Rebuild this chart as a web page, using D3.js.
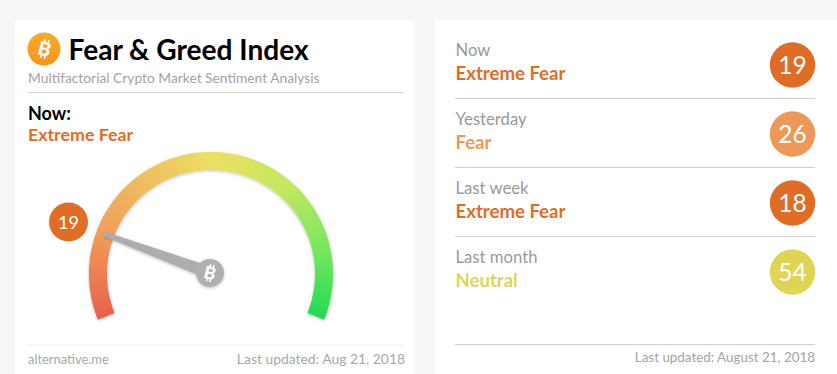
<!DOCTYPE html>
<html><head><meta charset="utf-8">
<script src="https://cdn.jsdelivr.net/npm/d3@7/dist/d3.min.js"></script>
<style>html,body{margin:0;padding:0;background:#f6f7f9;overflow:hidden}svg{display:block;font-family:Lato,sans-serif}</style>
</head><body><svg id="c" width="837" height="374"></svg>
<script>
const rowLabels=["Now","Yesterday","Last week","Last month"];
const rowClasses=["Extreme Fear","Fear","Extreme Fear","Neutral"];
const rowValues=[19,26,18,54];
const classColors={"Extreme Fear":"#df6d26","Fear":"#ec9858","Neutral":"#dfd454"};
const gaugeStops=[0,0.2,0.5,0.68,0.85,1];
const gaugeColors=["#e9604b","#f1a05b","#ecdf63","#c4e85f","#76e761","#1fdb52"];
const gaugeSteps=d3.range(0,112);
const currentValue=19;

const svg=d3.select("#c");
const defs=svg.append("defs");
const f=defs.append("filter").attr("id","sh").attr("x","-20%").attr("y","-20%").attr("width","140%").attr("height","140%");
f.append("feDropShadow").attr("dx",0).attr("dy",1).attr("stdDeviation",1.5).attr("flood-color","#000").attr("flood-opacity",.25);
const lg=defs.append("linearGradient").attr("id","coin").attr("x1",0).attr("y1",0).attr("x2",0).attr("y2",1);
lg.append("stop").attr("offset",0).attr("stop-color","#fdab2c");
lg.append("stop").attr("offset",1).attr("stop-color","#f7931a");

svg.append("rect").attr("x",15).attr("y",20).attr("width",399).attr("height",354).attr("fill","#fff");
svg.append("rect").attr("x",435).attr("y",20).attr("width",402).attr("height",354).attr("fill","#fff");

function text(x,y,s,size,fill,weight,anchor){
  return svg.append("text").attr("x",x).attr("y",y).attr("font-size",size).attr("fill",fill)
    .attr("font-weight",weight||400).attr("text-anchor",anchor||"start").text(s);
}
function hr(x1,x2,y,c){svg.append("rect").attr("x",x1).attr("y",y-.5).attr("width",x2-x1).attr("height",1).attr("fill",c||"#cfcfcf");}
function btc(x,y,size,fill){
  const b=svg.append("g").attr("transform",`translate(${x},${y}) rotate(14)`);
  b.append("text").attr("text-anchor","middle").attr("dy","0.36em").attr("font-size",size).attr("font-weight",900).attr("fill",fill).text("B");
  const w=size*.09,h=size*.16;
  [[-.13,-.5],[.07,-.5],[-.13,.34],[.07,.34]].forEach(([u,v])=>
    b.append("rect").attr("x",u*size).attr("y",v*size).attr("width",w).attr("height",h).attr("fill",fill));
  return b;
}

// header
svg.append("circle").attr("cx",44).attr("cy",49).attr("r",16.5).attr("fill","url(#coin)");
btc(44.5,49,19,"#fff");
text(68.5,60,"Fear & Greed Index",28.1,"#000",700);
text(28,83,"Multifactorial Crypto Market Sentiment Analysis",13.8,"#a3a3a3");
hr(28,403,92.5,"#cfcfcf");
text(28,120,"Now:",18,"#000",700);
text(28,140.5,"Extreme Fear",17.8,classColors[rowClasses[0]],700);

// gauge
const cx=211,cy=274,outer=122,inner=104;
const angle=d3.scaleLinear().domain([0,100]).range([-112,112].map(d=>d*Math.PI/180));
const col=d3.scaleLinear().domain(gaugeStops).range(gaugeColors).interpolate(d3.interpolateRgb);
const stepV=d3.scaleLinear().domain([0,gaugeSteps.length]).range([0,100]);
const arc=d3.arc().innerRadius(inner).outerRadius(outer);
const g=svg.append("g").attr("transform",`translate(${cx},${cy})`);
g.append("g").attr("filter","url(#sh)").selectAll("path").data(gaugeSteps).join("path")
  .attr("d",d=>arc({startAngle:angle(stepV(d)),endAngle:angle(stepV(d+1))+(d<gaugeSteps.length-1?.006:0)}))
  .attr("fill",d=>col((d+.5)/gaugeSteps.length));

// needle
const a=angle(currentValue);
const tipR=114;
const ux=Math.sin(a),uy=-Math.cos(a),px=-uy,py=ux;
const needle=g.append("g").attr("filter","url(#sh)");
const pts=[[tipR*ux+2.3*px,tipR*uy+2.3*py],[tipR*ux-2.3*px,tipR*uy-2.3*py],[-6.5*px-1,-6.5*py-1],[6.5*px-1,6.5*py-1]];
needle.append("path").attr("d",d3.line()(pts)+"Z").attr("fill","#adadad");
needle.append("circle").attr("r",14).attr("cx",-1).attr("cy",-1).attr("fill","#b0b0b0");
btc(cx-1,cy-1,17.5,"#fff");

// current badge
svg.append("circle").attr("cx",68.5).attr("cy",222).attr("r",19.5).attr("fill",classColors[rowClasses[0]]);
text(68.5,228.5,currentValue,18,"#fff",400,"middle");

// footers
hr(28,403,345,"#ececec");
text(28,364,"alternative.me",12.9,"#a8a8a8");
text(405,364,"Last updated: Aug 21, 2018",13.9,"#a8a8a8",400,"end");
hr(455,815,344.5,"#cfcfcf");
text(815,362,"Last updated: August 21, 2018",13.4,"#a3a3a3",400,"end");

// history rows
const rowY=d3.scalePoint().domain(d3.range(rowLabels.length)).range([0,207]);
const rows=svg.append("g").selectAll("g").data(rowValues).join("g").attr("transform",(d,i)=>`translate(0,${rowY(i)})`);
rows.append("text").attr("x",455.5).attr("y",56).attr("font-size",16.7).attr("fill","#9a9a9a").text((d,i)=>rowLabels[i]);
rows.append("text").attr("x",455.5).attr("y",79.5).attr("font-size",18.6).attr("font-weight",700).attr("fill",(d,i)=>classColors[rowClasses[i]]).text((d,i)=>rowClasses[i]);
rows.append("circle").attr("cx",792.5).attr("cy",65).attr("r",22.7).attr("fill",(d,i)=>classColors[rowClasses[i]]);
rows.append("text").attr("x",792.5).attr("y",73.5).attr("text-anchor","middle").attr("font-size",24.5).attr("fill","#fff").text(d=>d);
rows.filter((d,i)=>i<rowLabels.length-1).append("rect").attr("x",455).attr("y",98).attr("width",360).attr("height",1).attr("fill","#cfcfcf");
</script></body></html>
